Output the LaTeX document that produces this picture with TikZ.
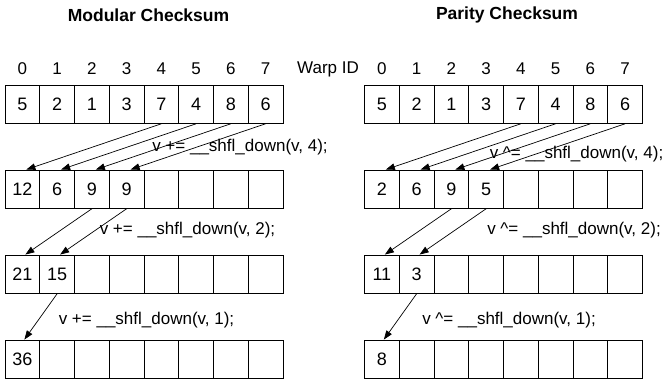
\documentclass[tikz,border=0pt]{standalone}
\usepackage{fontspec}
\setmainfont{Liberation Sans}
\usetikzlibrary{arrows.meta}

% one row of eight warp lanes: side, row, left edge, values
\newcommand\lanerow[4]{%
  \foreach \v [count=\c from 0] in {#4}
    \node[cell] (#1-#2-\c) at ({#3+(\c+0.5)*34.75},{104.15+85*#2}) {\v};}

\begin{document}
\begin{tikzpicture}[x=1pt,y=-1pt,
  cell/.style={draw,line width=0.9pt,minimum width=34.75pt,minimum height=38.3pt,
               inner sep=0pt,font=\fontsize{18}{20}\selectfont},
  idx/.style={inner sep=0pt,font=\fontsize{17}{20}\selectfont},
  op/.style={inner sep=0pt,font=\fontsize{17}{20}\selectfont},
  ttl/.style={inner sep=0pt,font=\fontsize{17.5}{20}\selectfont\bfseries},
  shfl/.style={-{Triangle[length=9pt,width=6.5pt]},line width=0.7pt}]
\useasboundingbox (0,0) rectangle (668,383);

% titles
\node[ttl] (tL) at (148.5,15) {Modular Checksum};
\node[ttl] (tR) at (507,15) {Parity Checksum};

% lane indices
\foreach \c in {0,...,7} {
  \node[idx] (iL\c) at ({5+(\c+0.5)*34.75},69) {\c};
  \node[idx] (iR\c) at ({364.5+(\c+0.5)*34.75},69) {\c};
}
\node[idx] (warp) at (328,69) {Warp ID};

% modular checksum lanes
\lanerow{L}{0}{5}{5,2,1,3,7,4,8,6}
\lanerow{L}{1}{5}{12,6,9,9,{},{},{},{}}
\lanerow{L}{2}{5}{21,15,{},{},{},{},{},{}}
\lanerow{L}{3}{5}{36,{},{},{},{},{},{},{}}

% parity checksum lanes
\lanerow{R}{0}{364.5}{5,2,1,3,7,4,8,6}
\lanerow{R}{1}{364.5}{2,6,9,5,{},{},{},{}}
\lanerow{R}{2}{364.5}{11,3,{},{},{},{},{},{}}
\lanerow{R}{3}{364.5}{8,{},{},{},{},{},{},{}}

% shuffle-down transfers
\foreach \s in {L,R} {
  \foreach \i in {0,...,3} {
    \pgfmathtruncatemacro\j{\i+4}
    \draw[shfl] (\s-0-\j.south) -- ([xshift=4pt]\s-1-\i.north);
  }
  \foreach \i in {0,1} {
    \pgfmathtruncatemacro\j{\i+2}
    \draw[shfl] (\s-1-\j.south) -- ([xshift=3pt]\s-2-\i.north);
  }
  \draw[shfl] (\s-2-1.south) -- ([xshift=2pt]\s-3-0.north);
}

% reduction steps
\node[op] (oL1) at (240,147) {v += \_\_shfl\_down(v, 4);};
\node[op] (oL2) at (187.5,230) {v += \_\_shfl\_down(v, 2);};
\node[op] (oL3) at (146.5,320) {v += \_\_shfl\_down(v, 1);};
\node[op] (oR1) at (576.5,154) {v \textasciicircum= \_\_shfl\_down(v, 4);};
\node[op] (oR2) at (574,230) {v \textasciicircum= \_\_shfl\_down(v, 2);};
\node[op] (oR3) at (509,320) {v \textasciicircum= \_\_shfl\_down(v, 1);};
\end{tikzpicture}
\end{document}
